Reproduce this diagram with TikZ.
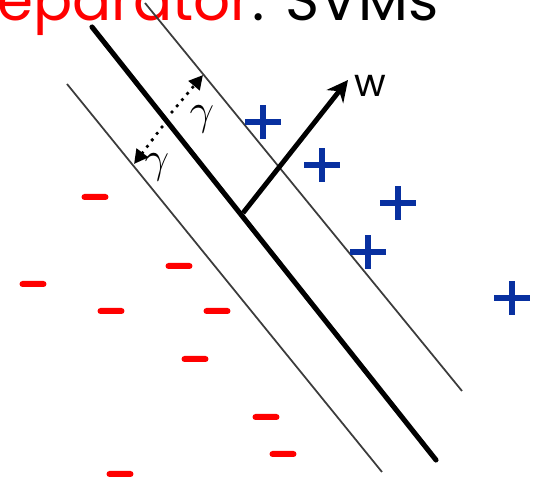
\documentclass[tikz,border=0pt]{standalone}
\usepackage{fontspec}
\newfontfamily\comicfont{Poppins}
\usepackage{xcolor}
\usetikzlibrary{arrows.meta}
\definecolor{plusblue}{RGB}{8,48,160}
\definecolor{margingray}{RGB}{60,60,60}

\begin{document}
\begin{tikzpicture}[x=0.02cm, y=-0.02cm,
  plusmark/.style={minimum width=0.72cm, minimum height=0.68cm, inner sep=0pt,
    path picture={
      \fill[plusblue] ([yshift=-0.068cm]path picture bounding box.west) rectangle ([yshift=0.068cm]path picture bounding box.east);
      \fill[plusblue] ([xshift=-0.068cm]path picture bounding box.south) rectangle ([xshift=0.068cm]path picture bounding box.north);}},
  minusmark/.style={minimum width=0.54cm, minimum height=0.12cm, inner sep=0pt, rounded corners=0.06cm, fill=red},
  marginln/.style={line width=1pt, draw=margingray},
  gamma arrow/.style={line width=2.2pt, dash pattern=on 0pt off 4.6pt, line cap=round, -{Triangle[length=8pt,width=8pt]}},
  gammalbl/.style={inner sep=0pt, font=\fontsize{26}{26}\selectfont}]
  \useasboundingbox (0,0) rectangle (535,479);
  \clip (0,0) rectangle (535,479);

  % Title (cut off at the top)
  \node[anchor=base west, inner sep=0pt, font=\comicfont\fontsize{33}{33}\selectfont] (title) at (-3,21) {\textcolor{red}{eparator}: SVMs};

  % Separator and the two margins
  \coordinate (sepA) at (92,27);
  \coordinate (sepB) at (436,460);
  \coordinate (upA) at (145,3);
  \coordinate (upB) at (462,391);
  \coordinate (loA) at (67,84);
  \coordinate (loB) at (382,472);
  \draw[line width=2.9pt, line cap=round] (sepA) -- (sepB);
  \draw[marginln] (upA) -- (upB);
  \draw[marginln] (loA) -- (loB);

  % Normal vector w
  \coordinate (foot) at (243,213);
  \coordinate (wtip) at (348,80);
  \draw[line width=2.8pt, -{Stealth[length=12pt,width=12pt]}] (foot) -- (wtip);
  \node[inner sep=0pt, font=\comicfont\fontsize{22}{22}\selectfont] (w) at (370,86) {w};

  % Margin widths
  \coordinate (gupS) at (172,112);
  \coordinate (gupE) at (203,75);
  \coordinate (gloS) at (162,127);
  \coordinate (gloE) at (134,164);
  \draw[gamma arrow] (gupS) -- (gupE);
  \draw[gamma arrow] (gloS) -- (gloE);
  \node[gammalbl] (gamup) at (202,119) {$\gamma$};
  \node[gammalbl] (gamlo) at (157,167) {$\gamma$};

  % Positive examples
  \foreach \x/\y [count=\i] in {263/122, 322/165, 398/203, 368/252, 512/298} {
    \node[plusmark] (p\i) at (\x,\y) {};
  }
  % Negative examples
  \foreach \x/\y [count=\i] in {95/197, 179/266, 33/284, 111/311, 217/311, 195/359, 266/417, 283/454, 120/474} {
    \node[minusmark] (m\i) at (\x,\y) {};
  }
\end{tikzpicture}
\end{document}
